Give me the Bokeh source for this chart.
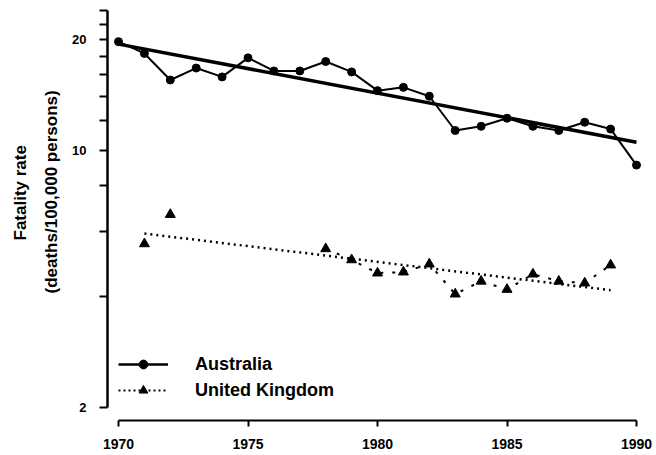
from bokeh.plotting import figure
from bokeh.models import Range1d, FixedTicker, Title, Legend, LegendItem
from bokeh.embed import file_html
from bokeh.resources import INLINE

# ---- data ----
aus_years = [1970, 1971, 1972, 1973, 1974, 1975, 1976, 1977, 1978, 1979, 1980,
             1981, 1982, 1983, 1984, 1985, 1986, 1987, 1988, 1989, 1990]
aus_rate = [19.7, 18.3, 15.5, 16.7, 15.8, 17.8, 16.4, 16.4, 17.4, 16.3, 14.5,
            14.8, 14.0, 11.3, 11.6, 12.2, 11.6, 11.3, 11.9, 11.4, 9.1]
aus_trend_years = [1970, 1990]
aus_trend_rate = [19.4, 10.5]

uk_years = [1971, 1972, 1973, 1974, 1975, 1976, 1977, 1978, 1979, 1980,
            1981, 1982, 1983, 1984, 1985, 1986, 1987, 1988, 1989]
nan = float("nan")
uk_rate = [5.56, 6.68, nan, nan, nan, nan, nan, 5.39, 5.03, 4.63,
           4.66, 4.90, 4.06, 4.40, 4.18, 4.60, 4.40, 4.35, 4.87]
uk_trend_years = [1971, 1989]
uk_trend_rate = [5.93, 4.16]

x_ticks = [1970, 1975, 1980, 1985, 1990]
y_ticks = [2, 4, 6, 8, 10, 12, 14, 16, 18, 20, 22, 24]
y_labelled = [2, 10, 20]
series_names = ["Australia", "United Kingdom"]
y_title = ["Fatality rate", "(deaths/100,000 persons)"]

FONT = "Liberation Sans"

p = figure(width=656, height=455, output_backend="svg", toolbar_location=None,
           y_axis_type="log",
           x_range=Range1d(1969.575, 1990.347), y_range=Range1d(1.841, 24.09),
           min_border_left=107, min_border_right=11, min_border_top=9,
           min_border_bottom=35)
p.outline_line_color = None
p.xgrid.visible = False
p.ygrid.visible = False
p.background_fill_color = "white"
p.border_fill_color = "white"

# axes
xa = p.xaxis[0]
xa.ticker = FixedTicker(ticks=x_ticks, minor_ticks=[])
xa.bounds = (x_ticks[0], x_ticks[-1])
xa.axis_line_width = 2
xa.axis_line_color = "black"
xa.major_tick_line_width = 2
xa.major_tick_out = 6
xa.major_tick_in = 0
xa.minor_tick_line_color = None
xa.major_label_standoff = 12
xa.major_label_text_font = FONT
xa.major_label_text_font_style = "bold"
xa.major_label_text_font_size = "14px"
xa.major_label_text_color = "black"

ya = p.yaxis[0]
ya.ticker = FixedTicker(ticks=y_ticks, minor_ticks=[])
ya.bounds = (y_ticks[0], y_ticks[-1])
ya.axis_line_width = 2.5
ya.axis_line_color = "black"
ya.major_tick_line_width = 2
ya.major_tick_out = 8
ya.major_tick_in = 0
ya.minor_tick_line_color = None
ya.major_label_standoff = 13
ya.major_label_overrides = {t: (str(t) if t in y_labelled else "") for t in y_ticks}
ya.major_label_text_font = FONT
ya.major_label_text_font_style = "bold"
ya.major_label_text_font_size = "13px"
ya.major_label_text_color = "black"

# y title: two rotated lines as left-side titles (inner line first)
for txt, stand, off in [(y_title[1], 17, 127), (y_title[0], 4, 180)]:
    p.add_layout(Title(text=txt, align="left", offset=off, standoff=stand,
                       text_font=FONT, text_font_style="bold",
                       text_font_size="17px", text_color="black"), "left")

# Australia
r_at = p.line(aus_trend_years, aus_trend_rate, line_color="black", line_width=3.5)
r_al = p.line(aus_years, aus_rate, line_color="black", line_width=2)
r_ac = p.scatter(aus_years, aus_rate, marker="circle", size=8,
                 fill_color="black", line_color="black")

# United Kingdom
r_ut = p.line(uk_trend_years, uk_trend_rate, line_color="black", line_width=2.5,
              line_dash="2 4")
r_ul = p.line(uk_years[7:], uk_rate[7:], line_color="black", line_width=2,
              line_dash="3 9")
r_um = p.scatter(uk_years, uk_rate, marker="triangle", size=10,
                 fill_color="black", line_color="black")

# legend sample lines
leg_a_line = p.line([nan], [nan], line_color="black", line_width=2.5)
leg_u_line = p.line([nan], [nan], line_color="black", line_width=2, line_dash="2 3")

legend = Legend(items=[
    LegendItem(label=series_names[0], renderers=[leg_a_line, r_ac]),
    LegendItem(label=series_names[1], renderers=[leg_u_line, r_um]),
], location=(11, 19))
legend.padding = 0
legend.margin = 0
legend.spacing = 4
legend.glyph_width = 50
legend.glyph_height = 22
legend.label_height = 22
legend.label_standoff = 27
legend.label_text_font = FONT
legend.label_text_font_style = "bold"
legend.label_text_font_size = "18px"
legend.label_text_color = "black"
legend.background_fill_alpha = 0
legend.border_line_color = None
p.add_layout(legend)

open("out.html", "w").write(file_html(p, INLINE))
